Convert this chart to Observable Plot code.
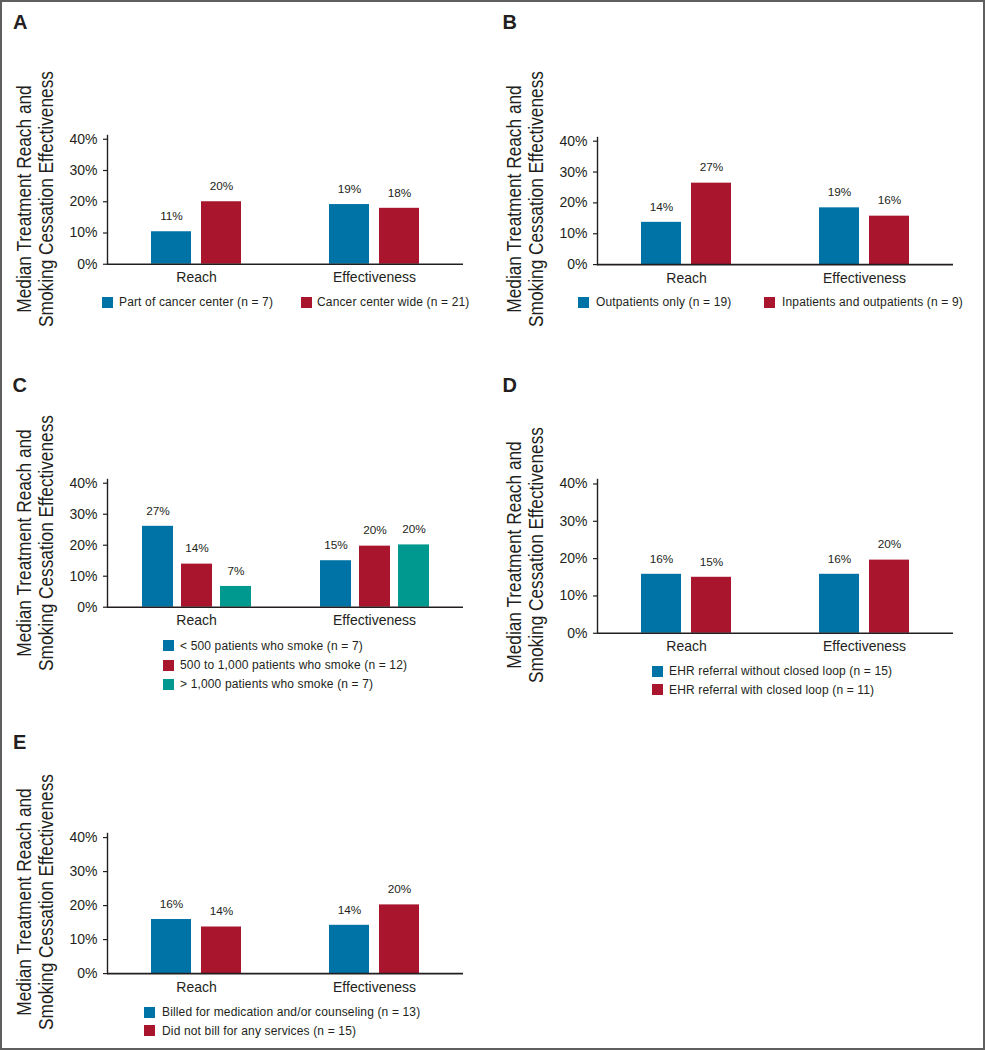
<!DOCTYPE html>
<html>
<head>
<meta charset="utf-8">
<script src="https://cdn.jsdelivr.net/npm/d3@7"></script>
<script src="https://cdn.jsdelivr.net/npm/@observablehq/plot@0.6"></script>
<style>
  html, body { margin: 0; padding: 0; background: #fff; }
  #fig { position: relative; width: 985px; height: 1050px; background: #fff;
         font-family: "Liberation Sans", Arial, Helvetica, sans-serif; color: #231f20; overflow: hidden; }
  #border { position: absolute; left: 0; top: 0; width: 985px; height: 1050px; box-sizing: border-box;
            border: 2px solid #5f5f5f; pointer-events: none; }
  .letter { position: absolute; font-weight: bold; font-size: 20px; line-height: 20px; }
  .ytitle { position: absolute; width: 320px; height: 44px; font-size: 19.5px; line-height: 22px;
            text-align: center; white-space: nowrap; transform: rotate(-90deg) scaleX(0.885); transform-origin: 50% 50%; }
  .sw { position: absolute; width: 11px; height: 11px; }
  .lt { position: absolute; font-size: 12px; line-height: 14px; white-space: nowrap; letter-spacing: 0.15px; }
  .panel svg { position: absolute; overflow: visible; }
</style>
</head>
<body>
<div id="fig"><div id="border"></div></div>
<script>
// ---------- data ----------
const categories = ["Reach", "Effectiveness"];
const yTicks = [0, 10, 20, 30, 40];
const yTitleLines = ["Median Treatment Reach and", "Smoking Cessation Effectiveness"];

const seriesA = ["Part of cancer center (n = 7)", "Cancer center wide (n = 21)"];
const valuesA = [10.4, 20.0, 19.1, 17.9];
const labelsA = ["11%", "20%", "19%", "18%"];

const seriesB = ["Outpatients only (n = 19)", "Inpatients and outpatients (n = 9)"];
const valuesB = [13.7, 26.4, 18.4, 15.7];
const labelsB = ["14%", "27%", "19%", "16%"];

const seriesC = ["< 500 patients who smoke (n = 7)", "500 to 1,000 patients who smoke (n = 12)", "> 1,000 patients who smoke (n = 7)"];
const valuesC = [26.1, 13.9, 6.7, 15.0, 19.7, 20.1];
const labelsC = ["27%", "14%", "7%", "15%", "20%", "20%"];

const seriesD = ["EHR referral without closed loop (n = 15)", "EHR referral with closed loop (n = 11)"];
const valuesD = [15.8, 15.0, 15.8, 19.6];
const labelsD = ["16%", "15%", "16%", "20%"];

const seriesE = ["Billed for medication and/or counseling (n = 13)", "Did not bill for any services (n = 15)"];
const valuesE = [15.9, 13.7, 14.2, 20.2];
const labelsE = ["16%", "14%", "14%", "20%"];

const colors = ["#0073a6", "#a8152d", "#00998f"];

// ---------- layout (positions/styles) ----------
const panels = [
  { letter: "A", series: seriesA, values: valuesA, labels: labelsA,
    left: 107, y0: 263.3, y40: 138.3, pIn: 0.2, pOut: 0.88,
    letterPos: [13, 12.4], titleC: [35, 199],
    legend: [[102, 119, 302], [301, 317, 302]] },
  { letter: "B", series: seriesB, values: valuesB, labels: labelsB,
    left: 597, y0: 263.7, y40: 140.3, pIn: 0.2, pOut: 0.88,
    letterPos: [502.5, 12.4], titleC: [525, 199],
    legend: [[578, 596, 302], [764, 782, 302]] },
  { letter: "C", series: seriesC, values: valuesC, labels: labelsC,
    left: 107, y0: 606.7, y40: 482.7, pIn: 0.215, pOut: 0.86,
    letterPos: [12.5, 375.4], titleC: [35, 542.5],
    legend: [[163, 180, 645.7], [163, 180, 665], [163, 180, 684.3]] },
  { letter: "D", series: seriesD, values: valuesD, labels: labelsD,
    left: 597, y0: 632.3, y40: 483, pIn: 0.2, pOut: 0.88,
    letterPos: [502.5, 375.4], titleC: [525, 555],
    legend: [[652, 669, 671], [652, 669, 689.7]] },
  { letter: "E", series: seriesE, values: valuesE, labels: labelsE,
    left: 107, y0: 973.3, y40: 837.3, pIn: 0.2, pOut: 0.88,
    letterPos: [13, 732.4], titleC: [35, 901.7],
    legend: [[144, 162, 1012], [144, 162, 1030.7]] }
];

const fig = document.getElementById("fig");
const border = document.getElementById("border");
const innerW = 356, yMax = 41.2;
const ml = 50, mr = 10, mt = 22, mb = 32;
const ink = "#231f20";

function el(cls, text) { const d = document.createElement("div"); d.className = cls; if (text != null) d.textContent = text; return d; }

for (const p of panels) {
  const ns = p.series.length;
  const data = categories.flatMap((c, i) => p.series.map((s, j) => ({
    category: c, series: s, value: p.values[i * ns + j], label: p.labels[i * ns + j]
  })));
  const pxPer = (p.y0 - p.y40) / 40;
  const innerH = yMax * pxPer;
  const width = innerW + ml + mr;
  const height = innerH + mt + mb;

  const svg = Plot.plot({
    width, height, marginLeft: ml, marginRight: mr, marginTop: mt, marginBottom: mb,
    style: { fontFamily: "'Liberation Sans', Arial, sans-serif", color: ink, background: "transparent", overflow: "visible" },
    fx: { domain: categories, padding: 0, label: null },
    x: { domain: p.series, paddingInner: p.pIn, paddingOuter: p.pOut, axis: null },
    y: { domain: [0, yMax], label: null },
    color: { domain: p.series, range: colors.slice(0, ns) },
    marks: [
      Plot.barY(data, { fx: "category", x: "series", y: "value", fill: "series" }),
      Plot.text(data, { fx: "category", x: "series", y: "value", text: "label",
        dy: -15.5, lineAnchor: "middle", fontSize: 11.8, fill: ink }),
      Plot.ruleY([0], { stroke: ink, strokeWidth: 1.6 }),
      Plot.frame({ anchor: "left", facetAnchor: "left", stroke: ink, strokeWidth: 1.4 }),
      Plot.axisY({ ticks: yTicks, tickFormat: d => d + "%", tickSize: 4, tickPadding: 6,
        fontSize: 14, label: null, stroke: ink, strokeWidth: 1.2, fill: ink }),
      Plot.axisFx({ anchor: "bottom", tickSize: 0, tickPadding: 8, fontSize: 14, label: null, fill: ink })
    ]
  });
  const wrap = el("panel");
  svg.style.left = (p.left - ml) + "px";
  svg.style.top = (p.y0 - innerH - mt) + "px";
  wrap.appendChild(svg);

  const L = el("letter", p.letter);
  L.style.left = p.letterPos[0] + "px"; L.style.top = p.letterPos[1] + "px";
  wrap.appendChild(L);

  const T = el("ytitle");
  T.innerHTML = yTitleLines.join("<br>");
  T.style.left = (p.titleC[0] - 160) + "px";
  T.style.top = (p.titleC[1] - 22) + "px";
  wrap.appendChild(T);

  p.series.forEach((s, j) => {
    const [sx, tx, cy] = p.legend[j];
    const sw = el("sw");
    sw.style.left = sx + "px"; sw.style.top = (cy - 5.5) + "px"; sw.style.background = colors[j];
    const t = el("lt", s);
    t.style.left = tx + "px"; t.style.top = (cy - 7) + "px";
    wrap.appendChild(sw); wrap.appendChild(t);
  });
  fig.insertBefore(wrap, border);
}
</script>
</body>
</html>
